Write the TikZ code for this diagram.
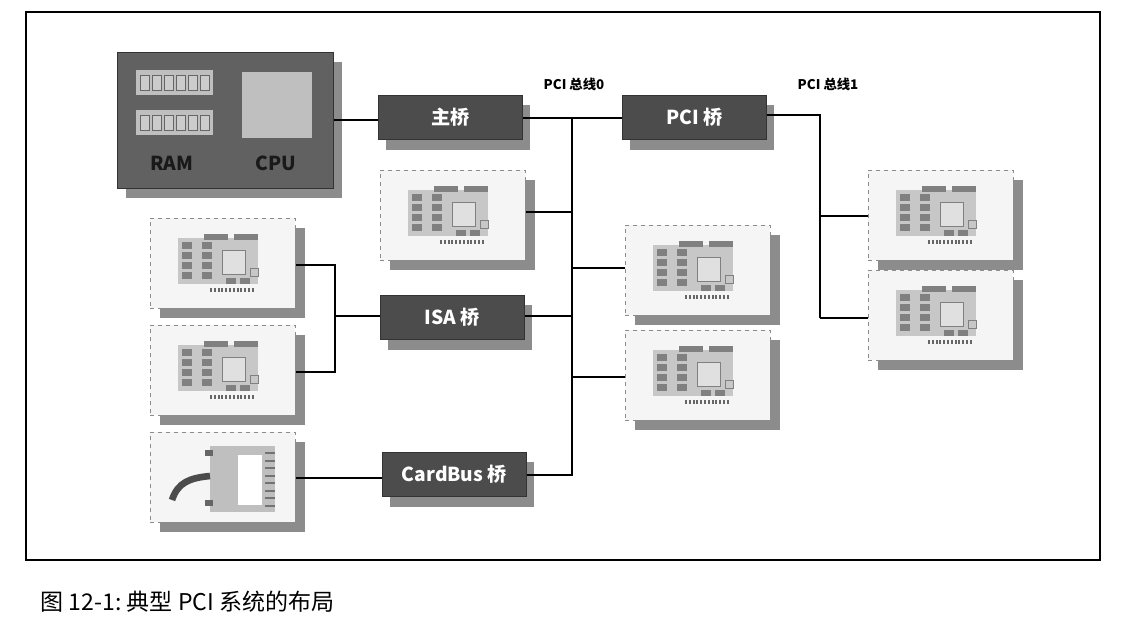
\documentclass[tikz,border=0pt]{standalone}
\usepackage{fontspec}
\setmainfont{Noto Sans CJK SC}
\begin{document}
\begin{tikzpicture}[x=0.75pt,y=-0.75pt,
  shadowc/.style={fill=black!45,draw=none},
  dark/.style={fill=black!62,draw=black!80,line width=0.6pt},
  bridge/.style={dark,fill=black!70,minimum width=108pt,minimum height=33pt,inner sep=0pt,text=white,font=\bfseries\Large},
  card/.style={fill=black!4,draw=black!45,dashed,line width=0.6pt},
  bus/.style={line width=2pt,black},
  lbl/.style={font=\bfseries\normalsize}]
\useasboundingbox (0,0) rectangle (1125,628);
\fill[white] (0,0) rectangle (1125,628);
\draw[line width=0.8pt] (26,12) rectangle (1100,560);
\node[anchor=west,font=\LARGE] (cap) at (36,602) {图 12-1:\ 典型 PCI 系统的布局};
\fill[shadowc] (126,62) rectangle (342,198);
\node[dark,minimum width=162pt,minimum height=102pt,inner sep=0pt,anchor=north west] (cpub) at (117,52) {};
\foreach \yy in {70,110}{
  \fill[black!25] (136,\yy) rectangle (213,\yy+25);
  \foreach \i in {0,...,5}{\draw[black!60,fill=black!20,line width=0.5pt] (140+\i*12,\yy+5) rectangle (149+\i*12,\yy+20);}
}
\fill[black!25] (242,72) rectangle (312,138);
\node[font=\bfseries\Large,text=black!90] (ramt) at (172,163) {RAM};
\node[font=\bfseries\Large,text=black!90] (cput) at (276,163) {CPU};
\tikzset{pics/cardicon/.style={code={
  \fill[black!22] (28,20) rectangle (108,66);
  \foreach \r in {0,...,3}{
    \fill[black!50] (32,24+\r*10) rectangle (42,31+\r*10);
    \fill[black!50] (52,24+\r*10) rectangle (62,31+\r*10);}
  \fill[black!50] (54,16) rectangle (78,22);
  \fill[black!50] (84,16) rectangle (108,22);
  \fill[black!12,draw=black!50] (72,32) rectangle (95,56);
  \fill[black!50] (76,60) rectangle (86,66);
  \fill[black!50] (90,60) rectangle (100,66);
  \draw[black!50] (100,50) rectangle (108,58);
  \foreach \p in {0,...,11}{\fill[black!60] (60+\p*3.8,70) rectangle (62+\p*3.8,74);}
}}}
\foreach \n/\x/\y in {c1/380/170, l1/150/218, l2/150/325, m1/625/225, m2/625/330, r1/868/170, r2/868/270, cb/150/432}{
  \fill[shadowc] (\x+145,\y+10) rectangle (\x+155,\y+100);
  \fill[shadowc] (\x+10,\y+90) rectangle (\x+155,\y+100);
  \node[card,minimum width=108.75pt,minimum height=67.5pt,inner sep=0pt,anchor=north west] (\n) at (\x,\y) {};
}
\foreach \x/\y in {380/170,150/218,150/325,625/225,625/330,868/170,868/270}{
  \pic at (\x,\y) {cardicon};
}
\fill[black!25] (210,446) rectangle (275,512);
\fill[white] (238,455) rectangle (262,505);
\foreach \p in {0,...,7}{\fill[black!55] (265,452+\p*7.5) rectangle (275,454+\p*7.5);}
\fill[black!60] (205,450) rectangle (213,456);\fill[black!60] (205,500) rectangle (213,506);
\draw[black!70,line width=5pt] (172,500) .. controls (178,482) and (190,478) .. (210,476);
\foreach \n/\x/\y/\t in {zq/378/95/主桥, pb/622/95/PCI 桥, isa/380/295/ISA 桥, cbb/382/452/CardBus 桥}{
  \fill[shadowc] (\x+8,\y+10) rectangle (\x+152,\y+55);
  \node[bridge,anchor=north west] (\n) at (\x,\y) {\t};
}
\node[lbl] (b0) at (574,84) {PCI 总线0};
\node[lbl] (b1) at (828,84) {PCI 总线1};
\coordinate (t0) at (572,118);
\coordinate (e0) at (572,465);
\coordinate (t1) at (820,115);
\coordinate (e1) at (820,318);
\draw[bus] (cpub.east |- 0,120) -- (zq.west |- 0,120);
\draw[bus] (zq.east |- t0) -- (pb.west |- t0);
\draw[bus] (t0) -- (e0);
\draw[bus] (pb.east |- t1) -- (t1) -- (e1);
\draw[bus] (c1.east |- 0,212) -- (572,212);
\draw[bus] (isa.east |- 0,316) -- (572,316);
\draw[bus] (cbb.east |- 0,475) -- (572,475) -- (e0);
\draw[bus] (m1.west |- 0,268) -- (572,268);
\draw[bus] (m2.west |- 0,377) -- (572,377);
\draw[bus] (r1.west |- 0,216) -- (820,216);
\draw[bus] (r2.west |- e1) -- (e1);
\draw[bus] (l1.east |- 0,265) -- (335,265) -- (335,372) -- (l2.east |- 0,372);
\draw[bus] (335,316) -- (isa.west |- 0,316);
\draw[bus] (cb.east |- 0,478) -- (cbb.west |- 0,478);
\end{tikzpicture}
\end{document}
